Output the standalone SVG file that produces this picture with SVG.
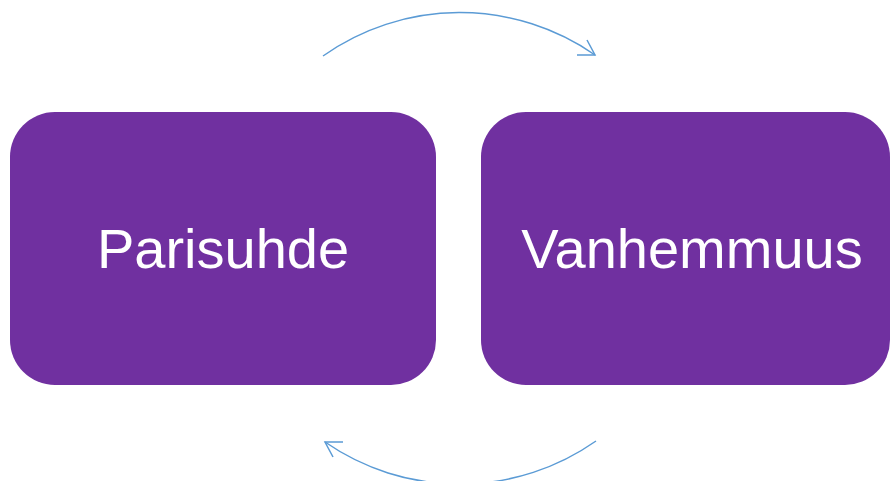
<svg xmlns="http://www.w3.org/2000/svg" width="893" height="481" viewBox="0 0 893 481">
<style>
.box{fill:#7030A0}
.lbl{font-family:"Liberation Sans",Arial,sans-serif;font-size:56px;fill:#ffffff;text-anchor:middle;dominant-baseline:central}
.arc{fill:none;stroke:#5B9BD5;stroke-width:1.5}
</style>
<rect width="893" height="481" fill="#ffffff"/>
<g id="connectors">
<path class="arc" d="M323,56 A237,237 0 0 1 595,55"/>
<path class="arc" d="M587,40 L595,55 L577,55"/>
<path class="arc" d="M596,441 A237,237 0 0 1 325,442"/>
<path class="arc" d="M333,457 L325,442 L343,442"/>
</g>
<g id="node-parisuhde">
<rect class="box" x="10" y="112" width="426" height="273" rx="45" ry="45"/>
<text class="lbl" x="223" y="248">Parisuhde</text>
</g>
<g id="node-vanhemmuus">
<rect class="box" x="481" y="112" width="409" height="273" rx="45" ry="45"/>
<text class="lbl" x="692" y="248">Vanhemmuus</text>
</g>
</svg>
